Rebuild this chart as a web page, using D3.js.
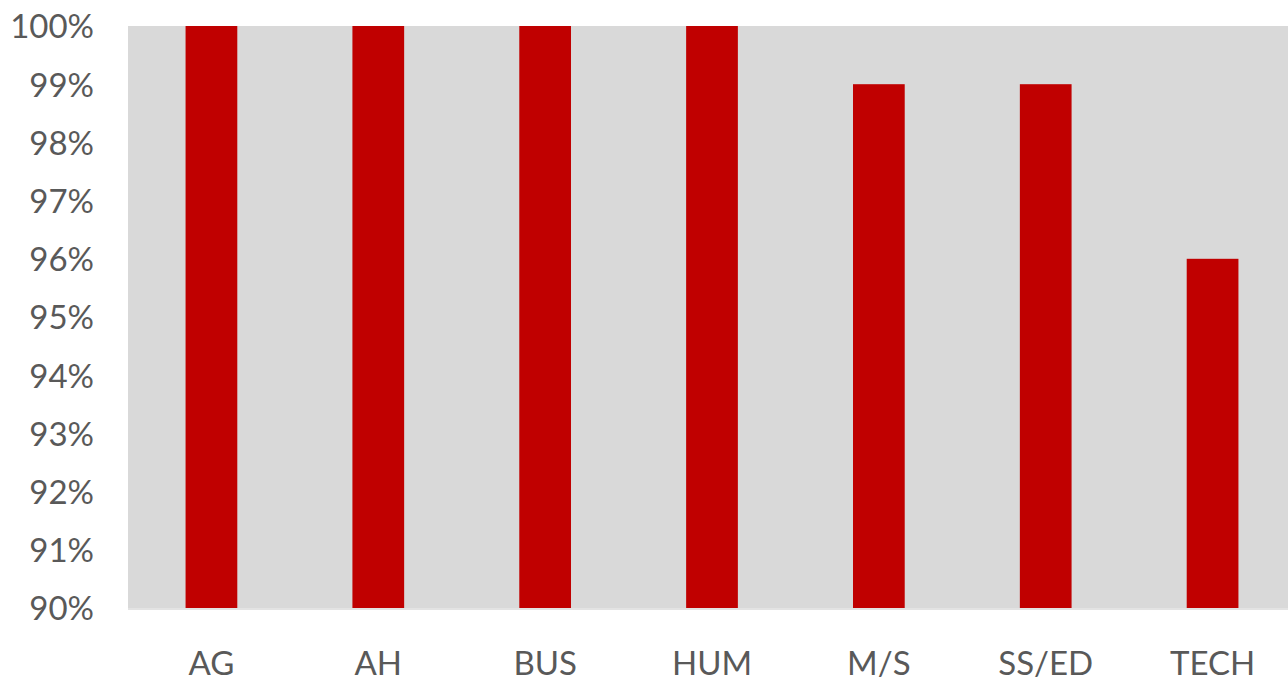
<!DOCTYPE html>
<html>
<head>
<meta charset="utf-8">
<script src="https://cdn.jsdelivr.net/npm/d3@7"></script>
<style>
  body { margin: 0; background: #ffffff; overflow: hidden; }
  svg { display: block; }
  text { font-family: Lato, "Open Sans", sans-serif; fill: #595959; }
</style>
</head>
<body>
<div id="chart"></div>
<script>
var categories = ["AG", "AH", "BUS", "HUM", "M/S", "SS/ED", "TECH"];
var values = [100, 100, 100, 100, 99, 99, 96];
var yTicks = [90, 91, 92, 93, 94, 95, 96, 97, 98, 99, 100];

function createBarChart() {
    var width = 1288, height = 681;
    var plot = { left: 128, right: 1296, top: 26, bottom: 608 };

    var svg = d3.select("#chart")
        .append("svg")
            .attr("width", width)
            .attr("height", height);

    var xScale = d3.scaleBand()
        .domain(categories)
        .range([plot.left, plot.right])
        .paddingInner(0.69)
        .paddingOuter(0.345);

    var yScale = d3.scaleLinear()
        .domain([90, 100])
        .range([plot.bottom, plot.top]);

    // plot background
    svg.append("rect")
        .attr("x", plot.left)
        .attr("y", plot.top)
        .attr("width", plot.right - plot.left)
        .attr("height", plot.bottom - plot.top + 2)
        .style("fill", "#d9d9d9");

    // bars
    svg.append("g")
        .selectAll("rect")
        .data(values)
        .enter()
        .append("rect")
            .attr("x", function(d, i) { return xScale(categories[i]); })
            .attr("y", function(d) { return yScale(d); })
            .attr("width", xScale.bandwidth())
            .attr("height", function(d) { return yScale(90) - yScale(d); })
            .style("fill", "#c00000");

    // bottom axis line
    svg.append("line")
        .attr("x1", plot.left)
        .attr("x2", plot.right)
        .attr("y1", plot.bottom + 1)
        .attr("y2", plot.bottom + 1)
        .style("stroke", "#e6e6e6")
        .style("stroke-width", 1.5);

    var yAxis = svg.append("g")
        .attr("transform", "translate(" + (plot.left - 34) + ",0)")
        .call(d3.axisLeft(yScale)
            .tickValues(yTicks)
            .tickSize(0)
            .tickPadding(0)
            .tickFormat(function(d) { return d + "%"; }));
    yAxis.select(".domain").remove();
    yAxis.selectAll("text")
        .attr("font-size", "33px")
        .attr("font-family", null)
        .attr("dy", "0.36em")
        .style("fill", "#595959");

    var xAxis = svg.append("g")
        .attr("transform", "translate(0," + plot.bottom + ")")
        .call(d3.axisBottom(xScale).tickSize(0).tickPadding(0));
    xAxis.select(".domain").remove();
    xAxis.selectAll("text")
        .attr("font-size", "33px")
        .attr("font-family", null)
        .attr("dy", null)
        .attr("y", 67)
        .style("fill", "#595959");
}

createBarChart();
</script>
</body>
</html>
